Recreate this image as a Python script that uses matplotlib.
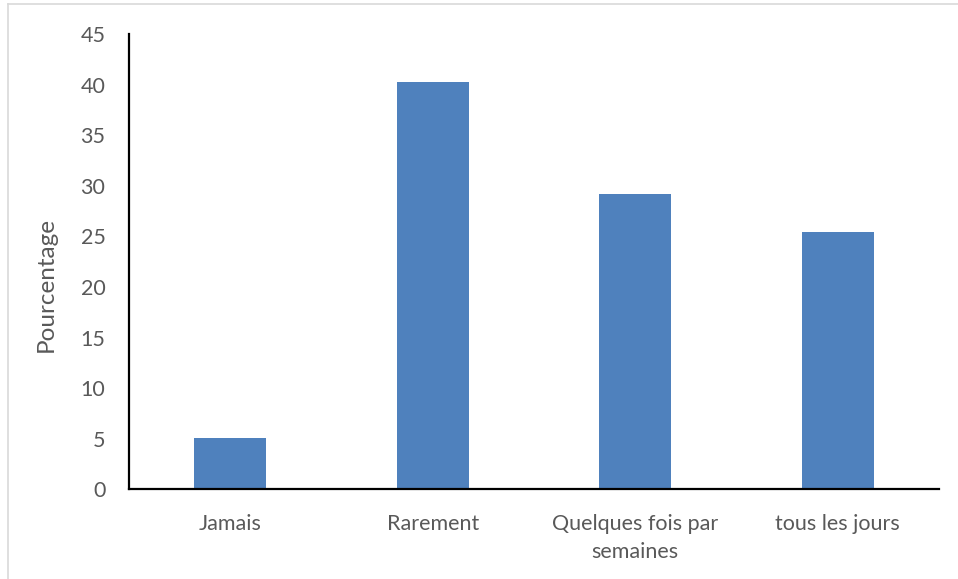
import matplotlib
matplotlib.use("Agg")
import matplotlib.pyplot as plt
from matplotlib.lines import Line2D

categories = ["Jamais", "Rarement", "Quelques fois par\nsemaines", "tous les jours"]
values = [5.1, 40.3, 29.2, 25.4]
yticks = [0, 5, 10, 15, 20, 25, 30, 35, 40, 45]

plt.rcParams['font.family'] = ['Lato', 'DejaVu Sans']
txt = '#595959'

fig = plt.figure(figsize=(9.58, 5.79), dpi=100)
ax = fig.add_axes([129/958, 1-489.3/579, (939-129)/958, (489.3-34)/579])
x = range(len(categories))
ax.bar(x, values, width=0.355, color='#4F81BD', zorder=2)
ax.set_xlim(-0.5, 3.5)
ax.set_ylim(0, 45)
ax.set_yticks(yticks)
ax.set_xticks(list(x))
ax.set_xticklabels(categories, fontsize=15.5, color=txt, linespacing=1.45)
ax.tick_params(axis='y', labelsize=15.5, labelcolor=txt, length=0, pad=17)
ax.tick_params(axis='x', length=0, pad=18)
for s in ['top', 'right']:
    ax.spines[s].set_visible(False)
for s in ['left', 'bottom']:
    ax.spines[s].set_color('black')
    ax.spines[s].set_linewidth(1.6)
ax.set_ylabel('Pourcentage', fontsize=17.5, color=txt)
ax.yaxis.set_label_coords(-(129-57)/810, (489.3-285)/455.3)

# light frame on top and left as in the reference
fig.add_artist(Line2D([8/958, 1], [1-4/579, 1-4/579], color='#d9d9d9', lw=1.2, transform=fig.transFigure))
fig.add_artist(Line2D([8/958, 8/958], [0, 1-4/579], color='#d9d9d9', lw=1.2, transform=fig.transFigure))

fig.savefig('out.png', dpi=100)
